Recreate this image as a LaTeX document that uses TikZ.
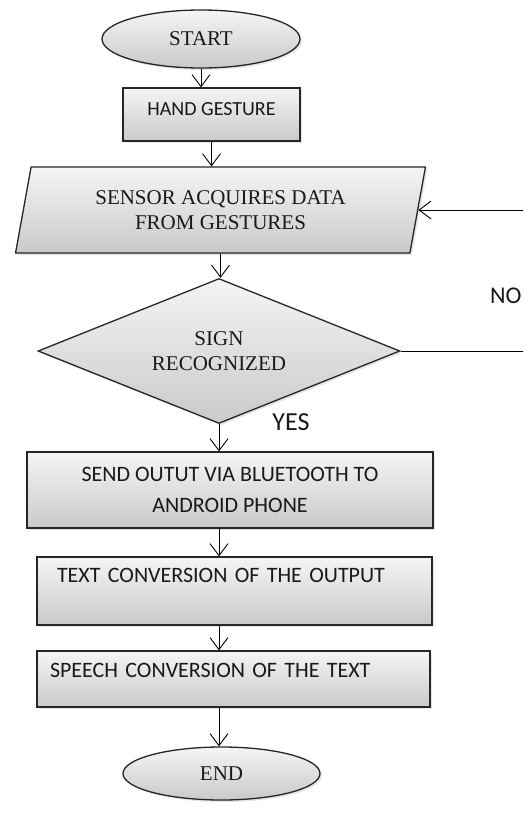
\documentclass[tikz,border=0pt]{standalone}
\usepackage{fontspec}
\setmainfont{Liberation Serif}
\newfontfamily\calibri{Carlito}
\usetikzlibrary{shapes.geometric,arrows.meta,shadows}

\begin{document}
\begin{tikzpicture}[x=1pt, y=-1pt, line width=0.9pt,
  >={Straight Barb[length=12pt,width=18pt]}]
\tikzstyle{every node}=[font=\fontsize{21}{25}\selectfont, text=black!90]
\tikzstyle{fillbox}=[draw=black!85, line width=1.3pt, top color=gray!8, bottom color=gray!42,
  drop shadow={opacity=0.2, shadow xshift=2pt, shadow yshift=-2pt}]
\tikzstyle{sans}=[font=\calibri\fontsize{22}{31}\selectfont]
\clip (0,0) rectangle (523,817);
   \node[fillbox, ellipse, minimum width=198pt, minimum height=58pt](start) at (201,39){START};
   \node[fillbox, rectangle, sans, font=\calibri\fontsize{20}{25}\selectfont, minimum width=177pt, minimum height=53pt, text height=14pt, text depth=12pt](hand) at (211.5,114.5){HAND GESTURE};
   \node[fillbox, trapezium, trapezium left angle=77, trapezium right angle=103, trapezium stretches=true,
     minimum width=411pt, minimum height=86pt, align=center](sensor) at (220.5,210){SENSOR ACQUIRES DATA\\FROM GESTURES};
   \node[fillbox, diamond, aspect=2.5, inner sep=0pt, minimum width=362pt, minimum height=145pt, align=center](sign) at (219,351){SIGN\\RECOGNIZED};
   \node[sans, font=\calibri\fontsize{26}{30}\selectfont](yes) at (291,422){YES};
   \node[sans, font=\calibri\fontsize{24}{28}\selectfont, anchor=east, inner sep=0pt](no) at (522,296){NO};
   \node[fillbox, rectangle, sans, minimum width=406pt, minimum height=76pt, align=center](send) at (230,490){SEND OUTUT VIA BLUETOOTH TO\\ANDROID PHONE};
   \node[fillbox, rectangle, sans, minimum height=68pt, inner xsep=20pt, text width=355pt, align=left,
     text height=12pt, text depth=30pt](conv) at (234.5,591){TEXT CONVERSION OF THE OUTPUT};
   \node[fillbox, rectangle, sans, minimum height=56pt, inner xsep=13pt, text width=367pt, align=left,
     text height=14pt, text depth=18pt](speech) at (233.5,679){SPEECH CONVERSION OF THE TEXT};
   \node[fillbox, ellipse, minimum width=197pt, minimum height=53pt](stop) at (221.5,773.5){END};
   \draw[->](start.south) -- (start.south |- hand.north);
   \draw[->](hand.south) -- (hand.south |- sensor.north);
   \draw[->](sensor.south) -- (sensor.south |- sign.north);
   \draw[->](sign.south) -- (sign.south |- send.north);
   \draw[->](sign.south |- send.south) -- (sign.south |- conv.north);
   \draw[->](sign.south |- conv.south) -- (sign.south |- speech.north);
   \draw[->](sign.south |- speech.south) -- (sign.south |- stop.north);
   \draw[->](sign.east) -- ++(160,0) |- (sensor.east);
\end{tikzpicture}
\end{document}
